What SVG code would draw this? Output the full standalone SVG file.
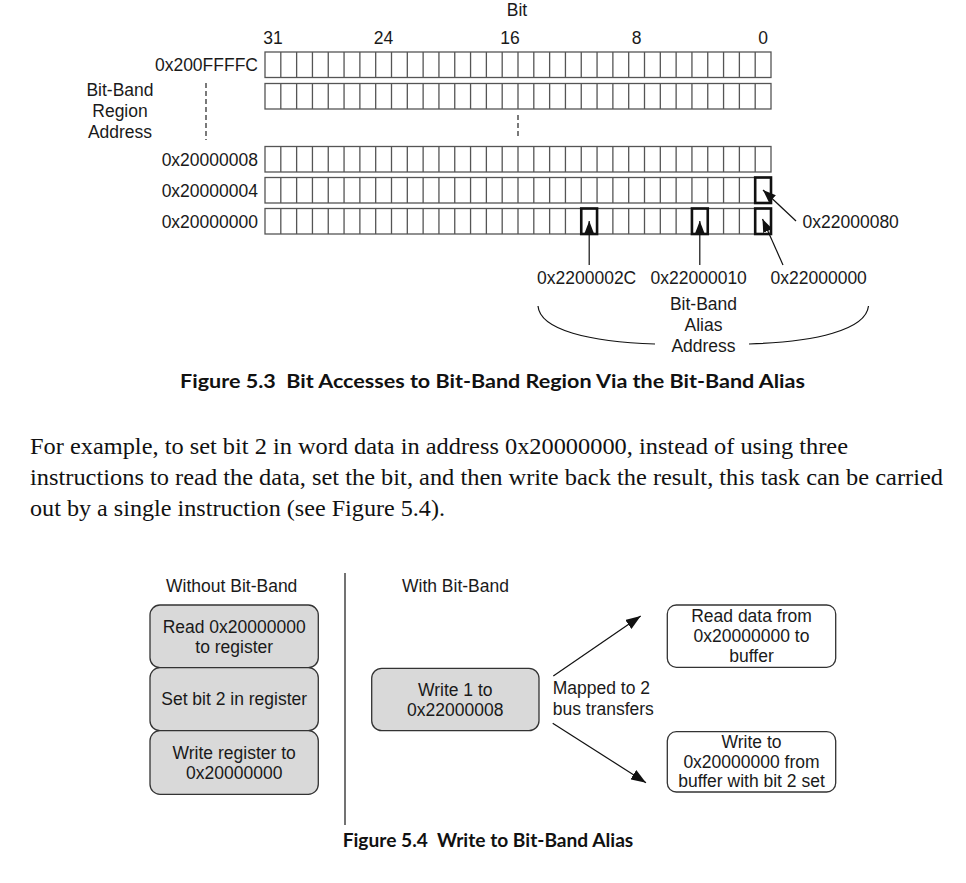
<svg xmlns="http://www.w3.org/2000/svg" xmlns:xlink="http://www.w3.org/1999/xlink" width="966" height="883" viewBox="0 0 966 883">
<style>
.t{font-family:"Liberation Sans",Arial,Helvetica,sans-serif;font-size:17.5px;fill:#1a1a1a}
.m{text-anchor:middle}
.e{text-anchor:end}
.cap{font-family:Lato,"Open Sans",sans-serif;font-weight:bold;font-size:19px;fill:#111}
.body{font-family:"Liberation Serif","Times New Roman",Times,serif;font-size:23px;fill:#111}
.row{fill:#fff;stroke:#555;stroke-width:1.3}
.tick{fill:none;stroke:#555;stroke-width:1.3}
.hl{fill:none;stroke:#111;stroke-width:2.6}
.arr{fill:none;stroke:#111;stroke-width:1.2}
.dash{fill:none;stroke:#333;stroke-width:1.3;stroke-dasharray:5 3}
.box{fill:#d9d9d9;stroke:#333;stroke-width:1.3}
.wbox{fill:#fff;stroke:#333;stroke-width:1.3}
</style>
<defs>
<marker id="ah" markerUnits="userSpaceOnUse" markerWidth="13" markerHeight="10" refX="13" refY="5" orient="auto">
<path d="M0,0 L13,5 L0,10 z" fill="#111"/>
</marker>
<marker id="ah2" markerUnits="userSpaceOnUse" markerWidth="15" markerHeight="11" refX="15" refY="5.5" orient="auto">
<path d="M0,0 L15,5.5 L0,11 z" fill="#111"/>
</marker>
<path id="ticks" class="tick" d="M280.81 0v25.5M296.63 0v25.5M312.44 0v25.5M328.25 0v25.5M344.06 0v25.5M359.88 0v25.5M375.69 0v25.5M391.5 0v25.5M407.31 0v25.5M423.13 0v25.5M438.94 0v25.5M454.75 0v25.5M470.56 0v25.5M486.38 0v25.5M502.19 0v25.5M518 0v25.5M533.81 0v25.5M549.63 0v25.5M565.44 0v25.5M581.25 0v25.5M597.06 0v25.5M612.88 0v25.5M628.69 0v25.5M644.5 0v25.5M660.31 0v25.5M676.13 0v25.5M691.94 0v25.5M707.75 0v25.5M723.56 0v25.5M739.38 0v25.5M755.19 0v25.5"/>
</defs>

<!-- Figure 5.3 -->
<g id="bit-header">
<text class="t m" x="517" y="15.5">Bit</text>
<text class="t m" x="272.9" y="44">31</text>
<text class="t m" x="383.6" y="44">24</text>
<text class="t m" x="510.1" y="44">16</text>
<text class="t m" x="636.6" y="44">8</text>
<text class="t m" x="763.1" y="44">0</text>
</g>

<g id="row-200FFFFC">
<text class="t e" x="258" y="71">0x200FFFFC</text>
<rect class="row" x="265" y="52" width="506" height="25.5"/>
<use xlink:href="#ticks" href="#ticks" transform="translate(0,52)"/>
</g>
<g id="row-next">
<rect class="row" x="265" y="83.5" width="506" height="25.5"/>
<use xlink:href="#ticks" href="#ticks" transform="translate(0,83.5)"/>
</g>
<g id="region-label">
<text class="t m" x="120" y="96">Bit-Band</text>
<text class="t m" x="120" y="117">Region</text>
<text class="t m" x="120" y="137.5">Address</text>
<path class="dash" d="M206 83v57"/>
<path class="dash" d="M518 115v22"/>
</g>
<g id="row-20000008">
<text class="t e" x="258" y="165.5">0x20000008</text>
<rect class="row" x="265" y="146.5" width="506" height="25.5"/>
<use xlink:href="#ticks" href="#ticks" transform="translate(0,146.5)"/>
</g>
<g id="row-20000004">
<text class="t e" x="258" y="196.5">0x20000004</text>
<rect class="row" x="265" y="177.5" width="506" height="25.5"/>
<use xlink:href="#ticks" href="#ticks" transform="translate(0,177.5)"/>
<rect class="hl" x="755.19" y="177.5" width="15.81" height="25.5"/>
</g>
<g id="row-20000000">
<text class="t e" x="258" y="227.5">0x20000000</text>
<rect class="row" x="265" y="208.5" width="506" height="25.5"/>
<use xlink:href="#ticks" href="#ticks" transform="translate(0,208.5)"/>
<rect class="hl" x="581.25" y="208.5" width="15.81" height="25.5"/>
<rect class="hl" x="691.94" y="208.5" width="15.81" height="25.5"/>
<rect class="hl" x="755.19" y="208.5" width="15.81" height="25.5"/>
</g>

<g id="alias-labels">
<text class="t" x="537" y="283.5">0x2200002C</text>
<text class="t" x="650.5" y="283.5">0x22000010</text>
<text class="t" x="770.5" y="283.5">0x22000000</text>
<text class="t" x="802.5" y="227.5">0x22000080</text>
<text class="t m" x="703.5" y="309.5">Bit-Band</text>
<text class="t m" x="703.5" y="330.5">Alias</text>
<text class="t m" x="703.5" y="351.5">Address</text>
</g>

<g id="connectors-53">
<path class="arr" d="M589.2 265V221" marker-end="url(#ah)"/>
<path class="arr" d="M699.8 265V221" marker-end="url(#ah)"/>
<path class="arr" d="M783 265L762.5 219" marker-end="url(#ah)"/>
<path class="arr" d="M796 221L763 190" marker-end="url(#ah)"/>
<path class="arr" d="M538 306C540 330 590 342 655 344"/>
<path class="arr" d="M749 344C815 342 866 330 868.5 306"/>
</g>

<text class="cap" x="180" y="388" textLength="625" lengthAdjust="spacingAndGlyphs" xml:space="preserve">Figure 5.3  Bit Accesses to Bit-Band Region Via the Bit-Band Alias</text>

<g id="paragraph">
<text class="body" x="30" y="454" textLength="818" lengthAdjust="spacingAndGlyphs">For example, to set bit 2 in word data in address 0x20000000, instead of using three</text>
<text class="body" x="30" y="485" textLength="913" lengthAdjust="spacingAndGlyphs">instructions to read the data, set the bit, and then write back the result, this task can be carried</text>
<text class="body" x="30" y="516" textLength="415" lengthAdjust="spacingAndGlyphs">out by a single instruction (see Figure 5.4).</text>
</g>

<!-- Figure 5.4 -->
<g id="headings-54">
<text class="t m" x="231.7" y="591.5">Without Bit-Band</text>
<text class="t m" x="455.5" y="591.5">With Bit-Band</text>
<path d="M345 573V825" fill="none" stroke="#444" stroke-width="1.5"/>
</g>
<g id="box-read">
<rect class="box" x="150" y="605" width="168.3" height="62.7" rx="10"/>
<text class="t m" x="234.2" y="633.3">Read 0x20000000</text>
<text class="t m" x="234.2" y="653.3">to register</text>
</g>
<g id="box-set">
<rect class="box" x="150" y="667.7" width="168.3" height="63" rx="10"/>
<text class="t m" x="234.2" y="705">Set bit 2 in register</text>
</g>
<g id="box-write">
<rect class="box" x="150" y="730.7" width="168.3" height="63.6" rx="10"/>
<text class="t m" x="234.2" y="759">Write register to</text>
<text class="t m" x="234.2" y="778.5">0x20000000</text>
</g>
<g id="box-write1">
<rect class="box" x="371.7" y="668.3" width="167.3" height="62.4" rx="10"/>
<text class="t m" x="455.3" y="695.7">Write 1 to</text>
<text class="t m" x="455.3" y="715.7">0x22000008</text>
</g>
<g id="mapped-label">
<text class="t" x="552.7" y="694">Mapped to 2</text>
<text class="t" x="552.7" y="715">bus transfers</text>
</g>
<g id="box-readdata">
<rect class="wbox" x="667.3" y="605" width="168.4" height="62.3" rx="9"/>
<text class="t m" x="751.5" y="621.8">Read data from</text>
<text class="t m" x="751.5" y="642">0x20000000 to</text>
<text class="t m" x="751.5" y="661.8">buffer</text>
</g>
<g id="box-writeback">
<rect class="wbox" x="667.3" y="731.7" width="168.4" height="60.3" rx="9"/>
<text class="t m" x="751.5" y="747.5">Write to</text>
<text class="t m" x="751.5" y="767.7">0x20000000 from</text>
<text class="t m" x="751.5" y="787">buffer with bit 2 set</text>
</g>
<g id="connectors-54">
<path class="arr" d="M553.3 676L640.7 616" marker-end="url(#ah2)"/>
<path class="arr" d="M552.7 723.3L646 782.7" marker-end="url(#ah2)"/>
</g>

<text class="cap" x="342.7" y="846.7" textLength="290.6" lengthAdjust="spacingAndGlyphs" xml:space="preserve">Figure 5.4  Write to Bit-Band Alias</text>
</svg>
